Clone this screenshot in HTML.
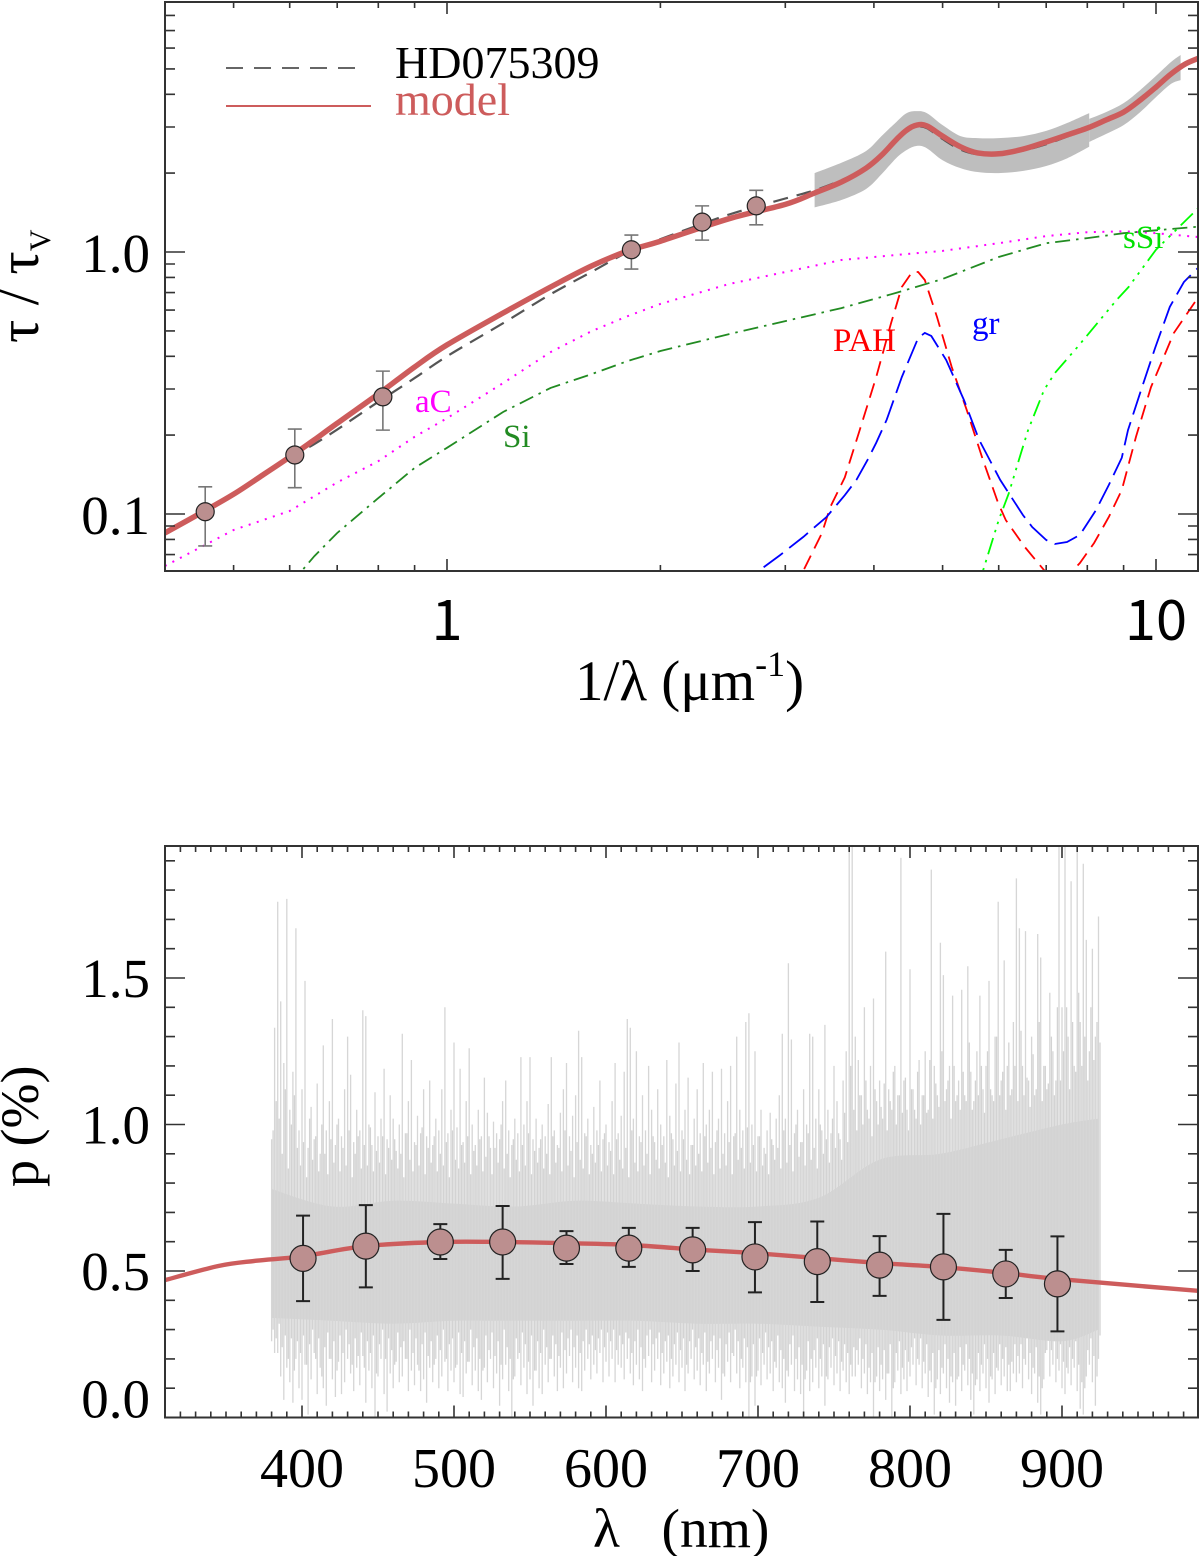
<!DOCTYPE html>
<html lang="en">
<head>
<meta charset="utf-8">
<title>HD075309 extinction and polarisation</title>
<style>
html,body{margin:0;padding:0;background:#fff;}
svg{display:block;}
text{font-family:"Liberation Serif","DejaVu Serif",serif;}
.sans{font-family:"Noto Sans CJK JP","Liberation Sans",sans-serif;}
</style>
</head>
<body>
<svg id="fig" xmlns="http://www.w3.org/2000/svg" width="1200" height="1556" viewBox="0 0 1200 1556">
  <rect x="0" y="0" width="1200" height="1556" fill="#fff"/>
  <defs>
    <clipPath id="clipTop"><rect x="165" y="2" width="1033" height="569"/></clipPath>
    <clipPath id="clipBot"><rect x="165" y="846" width="1033" height="571"/></clipPath>
  </defs>
  <g id="topMarks" clip-path="url(#clipTop)"></g>
  <g id="botMarks" clip-path="url(#clipBot)"></g>
  <g id="axes"></g>

  <line x1="226" y1="68" x2="358" y2="68" stroke="#333" stroke-width="1.6" stroke-dasharray="17 11"/>
  <text x="395" y="78" font-size="46" fill="#000">HD075309</text>
  <line x1="226" y1="106" x2="371" y2="106" stroke="#cd5c5c" stroke-width="2"/>
  <text x="395" y="115" font-size="46" fill="#cd5c5c">model</text>

  <text x="415" y="412" font-size="33" fill="#ff00ff">aC</text>
  <text x="503" y="447" font-size="33" fill="#228b22">Si</text>
  <text x="833" y="351" font-size="33" fill="#ff0000">PAH</text>
  <text x="972" y="334" font-size="33" fill="#0000ff">gr</text>
  <text x="1123" y="248" font-size="33" fill="#00e000">sSi</text>

  <text x="575" y="700" font-size="57" fill="#000">1/λ (μm<tspan font-size="36" dy="-24">-1</tspan><tspan dy="24">)</tspan></text>
  <text transform="translate(38,343) rotate(-90)" font-size="58" fill="#000">τ / τ<tspan font-size="30" dy="12">V</tspan></text>
  <text x="593" y="1547" font-size="55.5" fill="#000" xml:space="preserve">λ   (nm)</text>
  <text transform="translate(38,1187) rotate(-90)" font-size="54" fill="#000">p (%)</text>
</svg>

<script>
/* ---------- extinction panel data (1/lambda in um^-1, tau/tauV) ---------- */
const modelX = [0.4,0.45,0.5,0.55,0.6,0.65,0.7,0.8,0.9,1,1.2,1.4,1.6,1.8,2,2.5,3,3.3,3.6,3.9,4.1,4.3,4.45,4.6,4.75,5,5.3,5.6,6,6.5,7,7.5,8,8.5,9,9.5,10,10.5,11,11.5];
const modelY = [0.0846,0.101,0.119,0.141,0.165,0.192,0.222,0.287,0.364,0.442,0.585,0.735,0.885,1.01,1.10,1.34,1.52,1.68,1.85,2.09,2.34,2.68,2.92,3.05,3.03,2.77,2.52,2.39,2.37,2.47,2.63,2.80,2.97,3.19,3.42,3.80,4.26,4.78,5.22,5.50];
const observedY = [0.0846,0.101,0.118,0.14,0.163,0.185,0.21,0.268,0.33,0.40,0.535,0.69,0.84,1.0,1.12,1.39,1.6,1.72,1.88,2.1,2.34,2.66,2.88,3.0,2.97,2.7,2.46,2.36,2.36,2.44,2.58,2.76,2.95,3.19,3.45,3.8,4.3,4.82,5.22,5.5];

const bandAX = [3.3,3.6,3.9,4.1,4.3,4.45,4.6,4.75,5,5.3,5.6,6,6.5,7,7.5,8.05];
const bandAUpper = [2.00,2.19,2.43,2.77,3.13,3.39,3.45,3.39,3.05,2.77,2.72,2.72,2.77,2.90,3.11,3.39];
const bandALower = [1.48,1.58,1.74,1.98,2.28,2.45,2.54,2.49,2.24,2.09,2.02,2.00,2.04,2.13,2.28,2.52];
const bandBX = [8.05,8.5,9,9.5,10,10.5,10.83];
const bandBUpper = [3.22,3.42,3.70,4.15,4.70,5.31,5.65];
const bandBLower = [2.63,2.82,3.05,3.42,3.90,4.38,4.53];

const acX = [0.4,0.5,0.6,0.7,0.8,0.9,1,1.2,1.4,1.6,1.8,2,2.5,3,3.6,4.3,5,6,7,8,9,10,11.5];
const acY = [0.0633,0.0869,0.1027,0.132,0.159,0.197,0.232,0.316,0.415,0.499,0.570,0.634,0.755,0.839,0.932,0.974,1.01,1.08,1.15,1.19,1.20,1.18,1.14];
const siX = [0.6,0.65,0.7,0.8,0.9,1,1.2,1.4,1.6,1.8,2,2.5,3,3.6,4.3,5,6,7,8,9,10,11.5];
const siY = [0.0536,0.0691,0.0846,0.115,0.150,0.179,0.245,0.303,0.342,0.384,0.419,0.486,0.545,0.611,0.698,0.789,0.957,1.08,1.13,1.18,1.21,1.25];
const ssiX = [5.5,5.7,6,6.2,6.45,6.6,6.95,7.2,7.75,8.8,9.15,10,11.5];
const ssiY = [0.047,0.0606,0.0948,0.120,0.171,0.209,0.297,0.345,0.434,0.656,0.735,1.02,1.48];
const pahX = [3.09,3.18,3.38,3.47,3.64,3.82,4.03,4.23,4.38,4.53,4.62,4.72,4.91,5.15,5.41,5.70,5.99,6.14,6.53,6.95,7.25,7.64,7.81,8.18,8.58,8.95,9.37,9.84,10.6,11.4];
const pahY = [0.0513,0.0606,0.0846,0.106,0.138,0.209,0.333,0.536,0.735,0.839,0.839,0.782,0.565,0.364,0.249,0.161,0.110,0.0948,0.0748,0.0611,0.057,0.0611,0.065,0.0775,0.0974,0.1235,0.197,0.305,0.491,0.656];
const grX = [2.6,2.75,2.95,3.18,3.43,3.64,3.78,3.92,4.03,4.17,4.38,4.62,4.72,4.82,5.06,5.36,5.63,6.03,6.49,6.69,7.0,7.2,7.49,7.81,8.23,8.58,8.95,9.13,9.55,9.97,10.46,10.95,11.5];
const grY = [0.0513,0.0606,0.0697,0.0817,0.0974,0.118,0.135,0.161,0.187,0.229,0.333,0.470,0.491,0.478,0.387,0.272,0.192,0.135,0.0991,0.0892,0.0796,0.0768,0.0782,0.0832,0.1035,0.129,0.164,0.209,0.303,0.430,0.617,0.768,0.877];

const photX = [0.456,0.61,0.812,1.82,2.29,2.73];
const photY = [0.102,0.168,0.28,1.02,1.30,1.50];
const photHi = [0.127,0.211,0.351,1.16,1.50,1.72];
const photLo = [0.0755,0.126,0.209,0.861,1.11,1.27];

const topXMajor = [1,10];
const topXMajorLabels = ['1','10'];
const topXMinor = [0.5,0.6,0.7,0.8,0.9,2,3,4,5,6,7,8,9];
const topYMajor = [0.1,1];
const topYMajorLabels = ['0.1','1.0'];
const topYMinor = [0.07,0.08,0.09,0.2,0.3,0.4,0.5,0.6,0.7,0.8,0.9,2,3,4,5,6,7,8];

/* ---------- polarisation panel data (nm, %) ---------- */
const polModelX = [310,345,370,400,442,491,532,574,615,662,698,739,780,822,863,897,990];
const polModelY = [0.469,0.517,0.535,0.55,0.585,0.599,0.599,0.595,0.589,0.572,0.561,0.544,0.527,0.513,0.493,0.473,0.432];
const polPointX = [400.7,442,491,532,574,615,657,698,739,780,822,863,897];
const polPointY = [0.543,0.585,0.599,0.599,0.578,0.578,0.572,0.548,0.532,0.520,0.514,0.490,0.456];
const polPointHi = [0.689,0.725,0.660,0.722,0.636,0.647,0.647,0.667,0.669,0.619,0.695,0.572,0.618];
const polPointLo = [0.397,0.444,0.541,0.473,0.524,0.514,0.5,0.427,0.394,0.415,0.333,0.408,0.294];

const coreWave = [380,420,460,500,540,580,620,660,700,740,780,820,860,900,924];
const coreTop = [0.78,0.72,0.74,0.73,0.72,0.74,0.73,0.72,0.72,0.75,0.88,0.9,0.95,1.0,1.02];
const coreBottom = [0.34,0.33,0.32,0.33,0.33,0.33,0.33,0.32,0.32,0.31,0.3,0.28,0.28,0.26,0.3];

const specStartNm = 380;
const specStepNm = 2;
const specTop = [
0.95,1.33,1.76,1.42,1.21,1.77,1.05,1.18,1.67,0.98,
1.12,1.49,0.92,1.06,0.95,1.14,0.9,1.27,0.98,1.08,
1.36,0.93,1.02,0.96,1.12,1.30,1.17,0.94,1.05,0.98,
1.39,1.37,1.0,0.93,1.11,0.96,1.02,1.19,0.95,1.1,
1.02,0.91,1.0,1.31,0.97,1.08,1.22,0.94,1.03,0.97,
1.12,0.96,1.15,0.93,1.02,0.98,1.12,1.4,0.97,1.05,
1.28,0.99,1.19,0.94,1.08,1.26,1.0,0.93,1.05,0.96,
1.16,1.04,0.92,1.01,0.97,0.95,1.08,1.15,0.98,0.93,
1.02,0.97,1.23,1.0,1.08,1.23,0.95,1.02,0.92,1.0,
0.96,1.07,1.23,0.98,0.93,1.04,1.12,1.21,0.96,1.03,
1.1,1.32,1.23,0.97,1.02,0.93,1.06,0.98,1.15,0.95,
1.0,0.94,1.08,1.21,0.97,1.03,1.18,1.36,1.33,1.02,
1.25,0.96,1.1,0.98,1.2,1.05,0.94,1.12,1.0,0.96,
1.22,1.03,0.95,1.14,1.28,0.98,1.05,1.16,0.93,1.02,
1.12,0.97,1.21,1.0,1.05,1.18,0.94,1.02,1.19,0.97,
1.08,1.2,0.96,1.3,1.05,0.98,1.35,1.38,1.0,1.25,
0.96,1.05,0.92,0.98,1.04,0.93,1.02,1.1,1.31,1.02,
1.55,1.29,0.97,1.05,0.94,1.12,1.0,1.31,1.3,1.02,
1.12,0.98,1.34,1.05,0.97,1.2,1.08,0.95,1.15,1.25,
1.95,1.95,1.3,1.22,1.1,1.4,1.05,1.2,1.43,1.08,
1.15,1.02,1.59,1.12,1.05,1.2,1.1,1.91,1.15,1.05,
1.53,1.12,1.02,1.22,1.1,1.25,1.05,1.87,1.2,1.1,
1.62,1.51,1.12,1.2,1.44,1.08,1.15,1.46,1.1,1.54,
1.18,1.08,1.25,1.44,1.12,1.2,1.49,1.1,1.3,1.76,
1.15,1.56,1.2,1.1,1.35,1.84,1.67,1.2,1.66,1.15,
1.3,1.1,1.65,1.57,1.2,1.12,1.45,1.25,1.15,1.95,
1.4,1.95,1.3,1.83,1.2,1.95,1.35,1.89,1.63,1.25,
1.6,1.3,1.71];
const specBottom = [
0.26,0.22,0.22,0.14,0.06,0.17,0.12,0.05,0.2,0.1,
0.06,0.18,0.01,0.13,0.22,0.08,0.17,0.1,0.04,0.2,
0.13,0.07,0.19,0.08,0.12,0.2,0.15,0.09,0.17,0.11,
0.21,0.05,0.16,0.1,0,0.14,0.2,0.08,0.02,0.15,
0.1,0.19,0.12,0.14,0.2,0.09,0.16,0.11,0.18,0.09,
0.13,0.05,0.17,0.12,0.2,0.1,0.14,0.19,0.09,0.16,
0.12,0.18,0.08,0.07,0.15,0.19,0.11,0.16,0.09,0.06,
0.17,0.12,0.2,0.1,0.15,0.04,0.13,0.18,0.09,0,
0.14,0.2,0.11,0.17,0.08,0.13,0.04,0.16,0.1,0.08,
0.18,0.12,0.2,0.14,0.09,0.17,0.1,0.15,0.21,0.12,
0.17,0.1,0.09,0.16,0.2,0.13,0.18,0.15,0.22,0.12,
0.19,0.14,0.2,0.12,0.18,0.17,0.13,0.2,0.15,0.11,
0.18,0.13,0.09,0.17,0.21,0.12,0.16,0.2,0.11,0.15,
0.19,0.1,0.14,0.18,0.12,0.17,0.09,0.15,0.2,0.13,
0.16,0.11,0.18,0.09,0.15,0.2,0.12,0.17,0.06,0.14,
0.19,0.12,0.21,0.15,0.1,0.17,0.12,0,0.14,0.04,
0.16,0.11,0.18,0.13,0.15,0.09,0.17,0.12,0.1,0.05,
0.14,0.18,0.09,0.13,0.08,0,0.16,0.09,0.12,0.17,
0.1,0.14,0.04,0.13,0.17,0.11,0.15,0.09,0.16,0.12,
0.08,0.14,0.14,0.18,0.1,0.15,0.08,0.12,0,0.14,
0.09,0.13,0.06,0.15,0,0.12,0.16,0.08,0.13,0.09,
0.14,0.18,0.11,0.18,0.1,0.15,0.07,0.12,0.01,0.13,
0.08,0.15,0.1,0.05,0.12,0.04,0.14,0.09,0.16,0.11,
0.06,0.01,0.13,0.09,0.15,0.1,0.05,0.13,0.08,0.16,
0.11,0.14,0.09,0.09,0.15,0.12,0.15,0.1,0.18,0.13,
0.08,0.15,0.05,0.01,0.13,0.23,0.14,0.18,0.12,0.16,
0.1,0.08,0.15,0.11,0.17,0.09,0.03,0.01,0.14,0.18,
0.12,0.04,0.2];

const specMidStartNm = 381;
const specMidTop = [
0.98,1.08,1.02,0.9,1.12,0.85,1.0,1.1,0.92,0.86,
0.94,0.82,1.02,0.88,0.96,0.84,1.0,0.9,0.83,0.95,
0.87,1.0,0.84,0.92,0.86,0.98,0.82,0.9,0.96,0.85,
0.93,0.86,0.99,0.84,0.91,0.87,0.96,0.83,0.92,0.88,
0.95,0.85,0.9,0.82,0.97,0.88,0.84,0.93,0.86,0.99,
0.83,0.92,0.87,0.96,0.84,0.9,0.86,0.94,0.82,0.98,
0.88,0.85,0.93,0.87,0.96,0.83,0.91,0.86,0.95,0.84,
0.89,0.96,0.83,0.92,0.87,1.0,0.85,0.9,0.82,0.95,
0.88,0.84,0.93,0.86,0.97,0.83,0.91,0.87,0.95,0.85,
0.9,0.83,0.96,0.87,0.92,0.84,0.98,0.86,0.91,0.82,
0.94,0.88,0.85,0.96,0.83,0.9,0.87,0.93,0.84,0.97,
0.86,0.91,0.83,0.95,0.88,0.85,0.92,0.82,0.98,0.87,
0.84,0.94,0.86,0.9,0.83,0.96,0.88,0.85,0.93,0.87,
0.82,0.97,0.86,0.91,0.84,0.95,0.88,0.83,0.93,0.86,
0.9,0.84,0.96,0.87,0.92,0.83,0.98,0.85,0.9,0.86,
0.94,0.83,0.97,0.88,0.92,0.85,0.99,0.87,0.93,0.84,
0.96,0.86,0.9,0.83,0.95,0.88,0.92,0.85,0.98,0.87,
0.93,0.84,1.0,0.89,0.94,0.86,0.97,0.88,0.92,0.85,
1.0,0.9,0.95,0.87,1.02,0.92,0.97,0.88,1.04,0.94,
1.2,1.05,0.98,1.1,1.0,1.15,1.02,0.96,1.12,1.0,
1.06,1.14,0.98,1.08,1.18,1.0,1.1,1.04,1.16,0.98,
1.12,1.05,1.18,1.0,1.1,1.04,1.22,1.02,1.14,1.06,
1.25,1.08,1.15,1.02,1.2,1.1,1.05,1.18,1.08,1.28,
1.05,1.15,1.1,1.2,1.04,1.25,1.12,1.08,1.3,1.1,
1.18,1.05,1.28,1.12,1.2,1.08,1.32,1.1,1.16,1.06,
1.24,1.12,1.35,1.08,1.2,1.14,1.3,1.1,1.4,1.15,
1.25,1.4,1.12,1.35,1.18,1.45,1.2,1.3,1.15,1.4,
1.22,1.35,1.28];
const specMidBottom = [
0.3,0.27,0.32,0.24,0.28,0.2,0.27,0.16,0.26,0.22,
0.28,0.18,0.25,0.3,0.2,0.27,0.14,0.24,0.29,0.2,
0.26,0.16,0.28,0.22,0.3,0.25,0.18,0.27,0.21,0.29,
0.17,0.26,0.22,0.28,0.15,0.25,0.3,0.2,0.27,0.23,
0.18,0.29,0.24,0.26,0.2,0.3,0.22,0.27,0.16,0.25,
0.29,0.21,0.26,0.18,0.28,0.23,0.3,0.2,0.25,0.27,
0.17,0.29,0.22,0.26,0.19,0.3,0.24,0.27,0.2,0.16,
0.28,0.23,0.29,0.21,0.26,0.18,0.3,0.24,0.2,0.13,
0.27,0.22,0.29,0.25,0.19,0.28,0.16,0.26,0.22,0.3,
0.24,0.2,0.28,0.25,0.21,0.29,0.23,0.27,0.3,0.24,
0.28,0.22,0.26,0.3,0.25,0.28,0.23,0.27,0.3,0.24,
0.29,0.26,0.3,0.23,0.28,0.25,0.29,0.27,0.22,0.26,
0.3,0.24,0.2,0.28,0.3,0.25,0.27,0.29,0.22,0.26,
0.28,0.2,0.25,0.29,0.23,0.27,0.18,0.26,0.3,0.24,
0.27,0.22,0.29,0.19,0.26,0.28,0.23,0.27,0.15,0.25,
0.29,0.22,0.3,0.26,0.2,0.27,0.24,0.12,0.25,0.14,
0.27,0.22,0.29,0.24,0.26,0.19,0.28,0.23,0.2,0.16,
0.25,0.28,0.2,0.24,0.18,0.13,0.26,0.2,0.23,0.27,
0.2,0.25,0.14,0.24,0.27,0.21,0.26,0.19,0.25,0.22,
0.18,0.24,0.23,0.27,0.2,0.25,0.17,0.22,0.12,0.24,
0.18,0.23,0.15,0.25,0.1,0.22,0.26,0.17,0.23,0.19,
0.24,0.27,0.2,0.27,0.19,0.25,0.16,0.22,0.1,0.23,
0.17,0.25,0.2,0.14,0.22,0.13,0.24,0.18,0.25,0.2,
0.15,0.11,0.22,0.18,0.25,0.2,0.14,0.22,0.17,0.25,
0.2,0.24,0.18,0.19,0.25,0.21,0.25,0.2,0.27,0.22,
0.17,0.24,0.14,0.1,0.22,0.3,0.23,0.27,0.2,0.25,
0.19,0.17,0.24,0.2,0.26,0.18,0.12,0.1,0.23,0.27,
0.21,0.14,0.28];

const botXMajor = [400,500,600,700,800,900];
const botXMajorLabels = ['400','500','600','700','800','900'];
const botXMinor = [310,320,330,340,350,360,370,380,390,410,420,430,440,450,460,470,480,490,510,520,530,540,550,560,570,580,590,610,620,630,640,650,660,670,680,690,710,720,730,740,750,760,770,780,790,810,820,830,840,850,860,870,880,890,910,920,930,940,950,960,970,980];
const botYMajor = [0,0.5,1,1.5];
const botYMajorLabels = ['0.0','0.5','1.0','1.5'];
const botYMinor = [0.1,0.2,0.3,0.4,0.6,0.7,0.8,0.9,1.1,1.2,1.3,1.4,1.6,1.7,1.8,1.9];

/* ---------- axis functions ---------- */
const L = 165, R = 1198;
const topT = 2, topB = 571, botT = 846, botB = 1417.5;
const xTop = v => 447 + 709 * Math.log10(v);
const yTop = v => 252 - 262 * Math.log10(v);
const xBot = v => 302 + 1.52 * (v - 400);
const yBot = v => botB - 293 * v;

const NS = 'http://www.w3.org/2000/svg';
function mk(tag, parent, attrs) {
  const n = document.createElementNS(NS, tag);
  for (const k in attrs) n.setAttribute(k, attrs[k]);
  parent.appendChild(n);
  return n;
}
function linePath(xs, ys, fx, fy) {
  return xs.map((x, i) => (i ? 'L' : 'M') + fx(x).toFixed(1) + ' ' + fy(ys[i]).toFixed(1)).join('');
}
/* Catmull-Rom segments through the data points, in pixel space */
function smoothSegments(xs, ys, fx, fy) {
  const px = xs.map(fx), py = ys.map(fy);
  let d = '';
  for (let i = 0; i < px.length - 1; i++) {
    const a = Math.max(i - 1, 0), b = Math.min(i + 2, px.length - 1);
    const c1x = px[i] + (px[i + 1] - px[a]) / 6, c1y = py[i] + (py[i + 1] - py[a]) / 6;
    const c2x = px[i + 1] - (px[b] - px[i]) / 6, c2y = py[i + 1] - (py[b] - py[i]) / 6;
    d += 'C' + c1x.toFixed(1) + ' ' + c1y.toFixed(1) + ' ' + c2x.toFixed(1) + ' ' + c2y.toFixed(1) + ' ' + px[i + 1].toFixed(1) + ' ' + py[i + 1].toFixed(1);
  }
  return d;
}
function smoothPath(xs, ys, fx, fy) {
  return 'M' + fx(xs[0]).toFixed(1) + ' ' + fy(ys[0]).toFixed(1) + smoothSegments(xs, ys, fx, fy);
}
function bandPath(xs, hi, lo, fx, fy) {
  const rx = xs.slice().reverse(), rl = lo.slice().reverse();
  return 'M' + fx(xs[0]).toFixed(1) + ' ' + fy(hi[0]).toFixed(1) + smoothSegments(xs, hi, fx, fy) +
         'L' + fx(rx[0]).toFixed(1) + ' ' + fy(rl[0]).toFixed(1) + smoothSegments(rx, rl, fx, fy) + 'Z';
}

const topG = document.getElementById('topMarks');
const botG = document.getElementById('botMarks');
const axG = document.getElementById('axes');

/* ---------- extinction panel marks ---------- */
const bandA = mk('path', topG, {d: bandPath(bandAX, bandAUpper, bandALower, xTop, yTop), fill: '#bebebe'});


const bandB = mk('path', topG, {d: bandPath(bandBX, bandBUpper, bandBLower, xTop, yTop), fill: '#bebebe'});



const acLine = mk('path', topG, {d: linePath(acX, acY, xTop, yTop), fill: 'none', stroke: '#ff00ff', 'stroke-width': 2, 'stroke-dasharray': '2 6.5'});


const siLine = mk('path', topG, {d: linePath(siX, siY, xTop, yTop), fill: 'none', stroke: '#228b22', 'stroke-width': 1.8, 'stroke-dasharray': '15 6 2.5 6'});


const ssiLine = mk('path', topG, {d: linePath(ssiX, ssiY, xTop, yTop), fill: 'none', stroke: '#00ff00', 'stroke-width': 1.8, 'stroke-dasharray': '17 6 2.5 6 2.5 6 2.5 6'});


const pahLine = mk('path', topG, {d: linePath(pahX, pahY, xTop, yTop), fill: 'none', stroke: '#ff0000', 'stroke-width': 1.8, 'stroke-dasharray': '15 8'});


const grLine = mk('path', topG, {d: linePath(grX, grY, xTop, yTop), fill: 'none', stroke: '#0000ff', 'stroke-width': 1.8, 'stroke-dasharray': '24 8'});



const obsLine = mk('path', topG, {d: smoothPath(modelX, observedY, xTop, yTop), fill: 'none', stroke: '#555', 'stroke-width': 2.2, 'stroke-dasharray': '15 9'});


const modLine = mk('path', topG, {d: smoothPath(modelX, modelY, xTop, yTop), fill: 'none', stroke: '#cd5c5c', 'stroke-width': 5.5, 'stroke-linejoin': 'round'});



photX.forEach((x, i) => {
  const px = xTop(x);
  const bar = mk('path', topG, {
    d: 'M' + px + ' ' + yTop(photHi[i]) + 'V' + yTop(photLo[i]) +
       'M' + (px - 7) + ' ' + yTop(photHi[i]) + 'h14' +
       'M' + (px - 7) + ' ' + yTop(photLo[i]) + 'h14',
    fill: 'none', stroke: '#777', 'stroke-width': 1.6});
  
  
  const dot = mk('circle', topG, {cx: px, cy: yTop(photY[i]), r: 9, fill: '#bb8f8f', stroke: '#222', 'stroke-width': 1.2});
  
  
});

/* ---------- polarisation panel marks ---------- */
const core = mk('path', botG, {d: bandPath(coreWave, coreTop, coreBottom, xBot, yBot), fill: '#d3d3d3'});


let specD = '';
specTop.forEach((t, i) => {
  const px = xBot(specStartNm + i * specStepNm).toFixed(1);
  specD += 'M' + px + ' ' + yBot(t).toFixed(1) + 'V' + yBot(specBottom[i]).toFixed(1);
});
const spec = mk('path', botG, {d: specD, fill: 'none', stroke: '#d6d6d6', 'stroke-width': 1.3});


let specMidD = '';
specMidTop.forEach((t, i) => {
  const px = xBot(specMidStartNm + i * specStepNm).toFixed(1);
  specMidD += 'M' + px + ' ' + yBot(t).toFixed(1) + 'V' + yBot(specMidBottom[i]).toFixed(1);
});
const specMid = mk('path', botG, {d: specMidD, fill: 'none', stroke: '#d3d3d3', 'stroke-width': 1.3});



const polModel = mk('path', botG, {d: smoothPath(polModelX, polModelY, xBot, yBot), fill: 'none', stroke: '#cd5c5c', 'stroke-width': 4.4, 'stroke-linejoin': 'round'});



polPointX.forEach((x, i) => {
  const px = xBot(x);
  const bar = mk('path', botG, {
    d: 'M' + px + ' ' + yBot(polPointHi[i]) + 'V' + yBot(polPointLo[i]) +
       'M' + (px - 7) + ' ' + yBot(polPointHi[i]) + 'h14' +
       'M' + (px - 7) + ' ' + yBot(polPointLo[i]) + 'h14',
    fill: 'none', stroke: '#222', 'stroke-width': 2});
  
  
  const dot = mk('circle', botG, {cx: px, cy: yBot(polPointY[i]), r: 13, fill: '#bc8f8f', stroke: '#222', 'stroke-width': 1.2});
  
  
});

/* ---------- axes ---------- */
function drawAxes(prefix, top, bottom, xMaj, xMin, yMaj, yMin, fx, fy, xMajLen, xMinLen) {
  let d = '';
  xMaj.forEach(v => { const p = fx(v).toFixed(1); d += 'M' + p + ' ' + bottom + 'v-' + xMajLen + 'M' + p + ' ' + top + 'v' + xMajLen; });
  xMin.forEach(v => { const p = fx(v).toFixed(1); d += 'M' + p + ' ' + bottom + 'v-' + xMinLen + 'M' + p + ' ' + top + 'v' + xMinLen; });
  yMaj.forEach(v => { const p = fy(v).toFixed(1); d += 'M' + L + ' ' + p + 'h20M' + R + ' ' + p + 'h-20'; });
  yMin.forEach(v => { const p = fy(v).toFixed(1); d += 'M' + L + ' ' + p + 'h10M' + R + ' ' + p + 'h-10'; });
  const ticks = mk('path', axG, {d: d, fill: 'none', stroke: '#333', 'stroke-width': 1.6});
  
  
  const frame = mk('rect', axG, {x: L, y: top, width: R - L, height: bottom - top, fill: 'none', stroke: '#333', 'stroke-width': 2});
  
  
}
drawAxes('extinction', topT, topB, topXMajor, topXMinor, topYMajor, topYMinor, xTop, yTop, 12, 6);
drawAxes('polarisation', botT, botB, botXMajor, botXMinor, botYMajor, botYMinor, xBot, yBot, 12, 6);

topXMajor.forEach((v, i) => {
  const t = mk('text', axG, {x: xTop(v), y: 640, 'font-size': 56, 'text-anchor': 'middle', fill: '#000', 'class': 'sans'});
  t.textContent = topXMajorLabels[i];
  
  
});
topYMajor.forEach((v, i) => {
  const t = mk('text', axG, {x: 150, y: yTop(v) + 20, 'font-size': 55, 'text-anchor': 'end', fill: '#000'});
  t.textContent = topYMajorLabels[i];
  
  
});
botXMajor.forEach((v, i) => {
  const t = mk('text', axG, {x: xBot(v), y: 1487, 'font-size': 56, 'text-anchor': 'middle', fill: '#000'});
  t.textContent = botXMajorLabels[i];
  
  
});
botYMajor.forEach((v, i) => {
  const offset = v === 0 ? 0 : 19;
  const t = mk('text', axG, {x: 150, y: yBot(v) + offset, 'font-size': 55, 'text-anchor': 'end', fill: '#000'});
  t.textContent = botYMajorLabels[i];
  
  
});
</script>
</body>
</html>
